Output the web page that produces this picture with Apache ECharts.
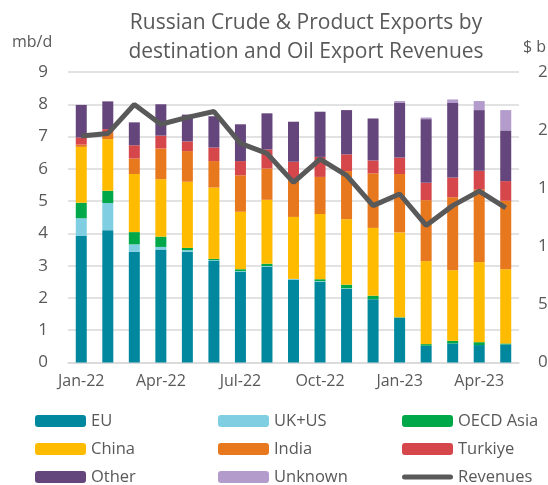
<!DOCTYPE html>
<html>
<head>
<meta charset="UTF-8">
<title>Russian exports</title>
<script src="https://cdn.jsdelivr.net/npm/echarts@6/dist/echarts.min.js"></script>
<style>
  html, body { margin: 0; padding: 0; overflow: hidden; background: #fff; }
  #main { width: 580px; height: 485px; }
</style>
</head>
<body>
<div id="main"></div>
<script>
// months
var months = ['Jan-22','Feb-22','Mar-22','Apr-22','May-22','Jun-22','Jul-22','Aug-22','Sep-22',
  'Oct-22','Nov-22','Dec-22','Jan-23','Feb-23','Mar-23','Apr-23','May-23'];

// mb/d by destination
var eu       = [3.92,4.10,3.43,3.50,3.43,3.15,2.81,2.97,2.57,2.50,2.28,1.96,1.39,0.52,0.59,0.54,0.56];
var ukus     = [0.55,0.84,0.23,0.08,0.05,0.02,0.02,0.02,0.02,0.02,0.02,0.00,0.00,0.00,0.00,0.00,0.00];
var oecdAsia = [0.48,0.38,0.38,0.32,0.07,0.04,0.06,0.07,0.00,0.06,0.11,0.11,0.01,0.05,0.08,0.09,0.03];
var china    = [1.73,1.60,1.80,1.78,2.05,2.21,1.78,1.98,1.92,2.02,2.03,2.10,2.63,2.57,2.19,2.48,2.30];
var india    = [0.07,0.21,0.48,0.95,0.95,0.82,1.13,0.97,1.12,1.15,1.49,1.69,1.81,1.89,2.26,2.25,2.12];
var turkiye  = [0.22,0.10,0.41,0.40,0.30,0.42,0.44,0.59,0.59,0.62,0.52,0.40,0.51,0.54,0.61,0.58,0.61];
var other    = [1.01,0.86,0.71,0.97,0.83,0.97,1.14,1.12,1.24,1.40,1.37,1.30,1.69,1.97,2.31,1.88,1.57];
var unknown  = [0,0,0,0,0,0,0,0,0,0,0,0,0.06,0.05,0.11,0.28,0.63];

// $ b oil export revenues
var revenues = [19.5,19.7,22.2,20.5,21.1,21.6,18.85,18.0,15.5,17.5,16.1,13.5,14.5,11.8,13.5,14.75,13.3];

var chart = echarts.init(document.getElementById('main'), null, { renderer: 'canvas' });

var grey = '#595959';
var font = '"Open Sans", sans-serif';

function bar(name, data, color) {
  return {
    name: name, type: 'bar', stack: 'exp', data: data, barWidth: 11,
    itemStyle: { color: color }
  };
}

var legendCommon = {
  orient: 'vertical', top: 410, height: 80, padding: 0,
  itemWidth: 51, itemHeight: 12, itemGap: 6,
  textStyle: { color: grey, fontSize: 16.5, fontFamily: font, lineHeight: 22 },
  selectedMode: false
};

// thick rounded line used as legend icon for the revenue series
var lineIcon = 'path://M2.5,0 L48.5,0 A2.5,2.5 0 0 1 48.5,5 L2.5,5 A2.5,2.5 0 0 1 2.5,0 Z';

var option = {
  animation: false,
  textStyle: { fontFamily: font },
  title: {
    text: 'Russian Crude & Product Exports by\ndestination and Oil Export Revenues',
    left: 301, textAlign: 'center', top: 4,
    textStyle: { color: grey, fontSize: 21, fontWeight: 'normal', lineHeight: 29, fontFamily: font }
  },
  graphic: [
    { type: 'text', left: 12, top: 34, style: { text: 'mb/d', fill: grey, font: '16px ' + font } },
    { type: 'text', left: 523, top: 39, style: { text: '$ b', fill: grey, font: '16px ' + font } }
  ],
  legend: [
    Object.assign({ left: 35, data: ['EU','China','Other'] }, legendCommon),
    Object.assign({ left: 218, data: ['UK+US','India','Unknown'] }, legendCommon),
    Object.assign({ left: 402, data: ['OECD Asia','Turkiye',
      { name: 'Revenues', icon: lineIcon, itemStyle: { color: grey } }] }, legendCommon)
  ],
  grid: { left: 68, width: 451, top: 72, height: 290.5 },
  xAxis: {
    type: 'category', data: months,
    axisLine: { lineStyle: { color: '#D9D9D9', width: 1.5 } },
    axisTick: { interval: 2, length: 6, lineStyle: { color: '#D9D9D9', width: 1.5 } },
    axisLabel: { interval: 2, color: grey, fontSize: 16, margin: 11 }
  },
  yAxis: [
    {
      type: 'value', min: 0, max: 9, interval: 1,
      axisLabel: { color: grey, fontSize: 17, margin: 20 },
      splitLine: { lineStyle: { color: '#D9D9D9', width: 1.5 } }
    },
    {
      type: 'value', min: 0, max: 25, interval: 5, position: 'right',
      axisLabel: { color: grey, fontSize: 17, margin: 19 },
      splitLine: { show: false }
    }
  ],
  series: [
    bar('EU', eu, '#02889E'),
    bar('UK+US', ukus, '#80CEE1'),
    bar('OECD Asia', oecdAsia, '#00A84A'),
    bar('China', china, '#FFBB00'),
    bar('India', india, '#E8781E'),
    bar('Turkiye', turkiye, '#D6474B'),
    bar('Other', other, '#64467D'),
    bar('Unknown', unknown, '#B39CCB'),
    {
      name: 'Revenues', type: 'line', yAxisIndex: 1, data: revenues,
      symbol: 'none', z: 5,
      lineStyle: { color: grey, width: 5 }, itemStyle: { color: grey }
    }
  ]
};

chart.setOption(option);
</script>
</body>
</html>
